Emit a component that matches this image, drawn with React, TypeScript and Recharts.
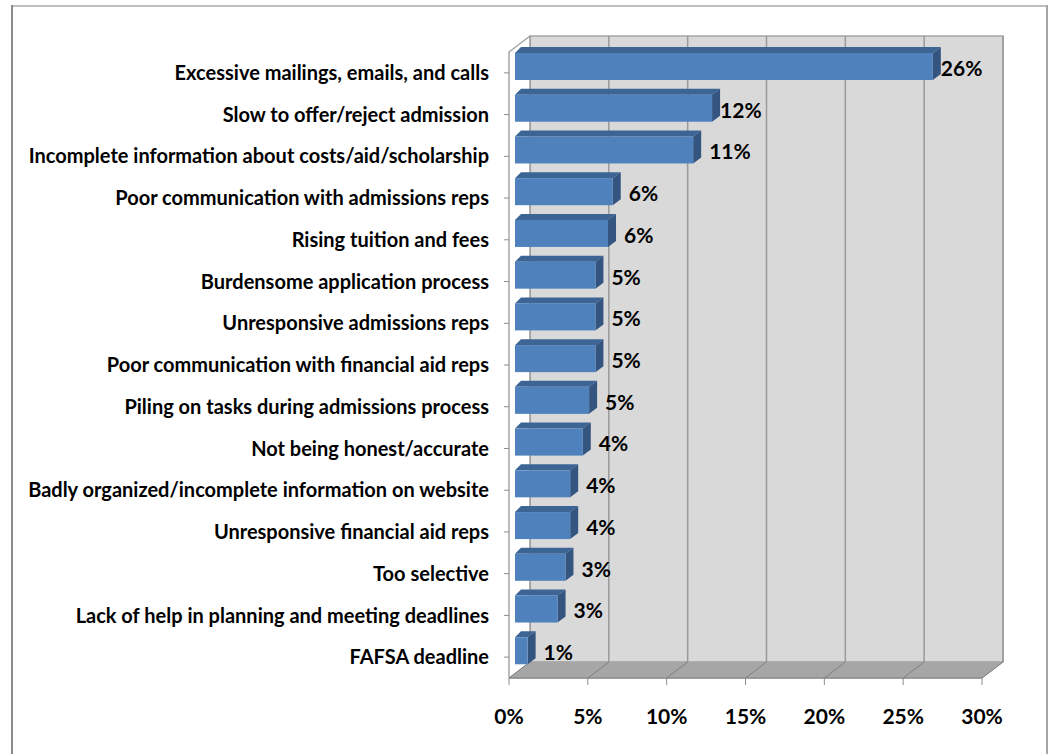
import { BarChart, Bar, XAxis, YAxis, CartesianGrid, LabelList, ReferenceArea } from 'recharts';

const categories = [
  'Excessive mailings, emails, and calls',
  'Slow to offer/reject admission',
  'Incomplete information about costs/aid/scholarship',
  'Poor communication with admissions reps',
  'Rising tuition and fees',
  'Burdensome application process',
  'Unresponsive admissions reps',
  'Poor communication with financial aid reps',
  'Piling on tasks during admissions process',
  'Not being honest/accurate',
  'Badly organized/incomplete information on website',
  'Unresponsive financial aid reps',
  'Too selective',
  'Lack of help in planning and meeting deadlines',
  'FAFSA deadline',
];
const values = [26.5, 12.5, 11.3, 6.2, 5.9, 5.1, 5.1, 5.1, 4.7, 4.3, 3.5, 3.5, 3.2, 2.7, 0.8];
const shownLabels = ['26%', '12%', '11%', '6%', '6%', '5%', '5%', '5%', '5%', '4%', '4%', '4%', '3%', '3%', '1%'];
const xTicks = [0, 5, 10, 15, 20, 25, 30];

const data = categories.map((name, i) => ({ name, value: values[i], shown: shownLabels[i] }));

const FONT = 'Lato, sans-serif';
// 3D look: depth of the wall behind the front plane, and of each bar
const DX = 21;
const DY = 16;
const BAR_X = 6;
const BAR_Y = 6;

// back wall, floor and left side wall
function Room(props: any) {
  const { x, y, width, height } = props;
  const r = x + width;
  const b = y + height;
  return (
    <g>
      <rect x={x + DX} y={y - DY} width={width} height={height} fill="#d9d9d9" stroke="#a6a6a6" strokeWidth={1.5} />
      <polygon points={`${x},${y} ${x + DX},${y - DY} ${x + DX},${b - DY} ${x},${b}`} fill="#ffffff" />
      <polygon points={`${x},${b} ${x + DX},${b - DY} ${r + DX},${b - DY} ${r},${b}`} fill="#a6a6a6" stroke="#a6a6a6" />
      <polyline points={`${x},${b} ${x},${y} ${x + DX},${y - DY}`} fill="none" stroke="#a6a6a6" strokeWidth={1.5} />
      <line x1={x} y1={b} x2={r} y2={b} stroke="#8c8c8c" strokeWidth={1.5} />
    </g>
  );
}

function GridLine(props: any) {
  const { x1, y1, y2 } = props;
  return (
    <g>
      <line x1={x1 + DX} y1={y1 - DY} x2={x1 + DX} y2={y2 - DY} stroke="#9a9a9a" strokeWidth={1.5} />
      <line x1={x1} y1={y2} x2={x1 + DX} y2={y2 - DY} stroke="#7f7f7f" />
    </g>
  );
}

function Bar3D(props: any) {
  const { x, y, width, height } = props;
  const left = x + BAR_X;
  const top = y - BAR_Y;
  const w = width;
  return (
    <g>
      <polygon
        points={`${left},${top} ${left + BAR_X},${top - BAR_Y} ${left + w + 8},${top - BAR_Y} ${left + w},${top}`}
        fill="#3c6494"
      />
      <polygon
        points={`${left + w},${top} ${left + w + 8},${top - BAR_Y} ${left + w + 8},${top + height - BAR_Y} ${left + w},${top + height}`}
        fill="#33557f"
      />
      <rect x={left} y={top} width={w} height={height} fill="#4f81bd" />
    </g>
  );
}

function ValueLabel(props: any) {
  const { x, y, width, height, value } = props;
  // the two longest bars carry their label closer than the rest
  const gap = value === '26%' || value === '12%' ? 8 : 16;
  return (
    <text
      x={x + BAR_X + width + gap}
      y={y + height / 2 - BAR_Y + 2}
      dy="0.35em"
      fontFamily={FONT}
      fontWeight={700}
      fontSize={21}
      fill="#000000"
    >
      {value}
    </text>
  );
}

export default function App() {
  return (
    <div style={{ position: 'absolute', left: 0, top: 0, width: 1049, height: 754, background: '#ffffff', overflow: 'hidden' }}>
      <div style={{ position: 'absolute', left: 11, top: 5, width: 1037, height: 2, background: '#bfbfbf' }} />
      <div style={{ position: 'absolute', left: 11, top: 5, width: 2, height: 749, background: '#8c8c8c' }} />
      <div style={{ position: 'absolute', left: 1046, top: 5, width: 2, height: 749, background: '#a6a6a6' }} />
      <BarChart
        width={1049}
        height={754}
        data={data}
        layout="vertical"
        barSize={27}
        margin={{ top: 52, right: 67, left: 9, bottom: 16 }}
        style={{ position: 'absolute', left: 0, top: 0 }}
      >
        <ReferenceArea x1={0} x2={30} shape={<Room />} ifOverflow="visible" zIndex={-200} />
        <CartesianGrid horizontal={false} vertical={<GridLine />} verticalValues={xTicks} />
        <XAxis
          type="number"
          domain={[0, 30]}
          ticks={xTicks}
          height={60}
          tickFormatter={(v) => `${v}%`}
          axisLine={false}
          tickLine={{ stroke: '#8c8c8c' }}
          tickSize={7}
          tickMargin={24}
          interval={0}
          tick={{ fontFamily: FONT, fontWeight: 700, fontSize: 21, fill: '#000000' }}
        />
        <YAxis
          type="category"
          dataKey="name"
          width={500}
          interval={0}
          axisLine={false}
          tickLine={{ stroke: '#8c8c8c' }}
          tickSize={5}
          tickMargin={15}
          tick={{ fontFamily: FONT, fontWeight: 700, fontSize: 20, fill: '#000000' }}
        />
        <Bar dataKey="value" isAnimationActive={false} shape={<Bar3D />}>
          <LabelList dataKey="shown" content={<ValueLabel />} />
        </Bar>
      </BarChart>
    </div>
  );
}
